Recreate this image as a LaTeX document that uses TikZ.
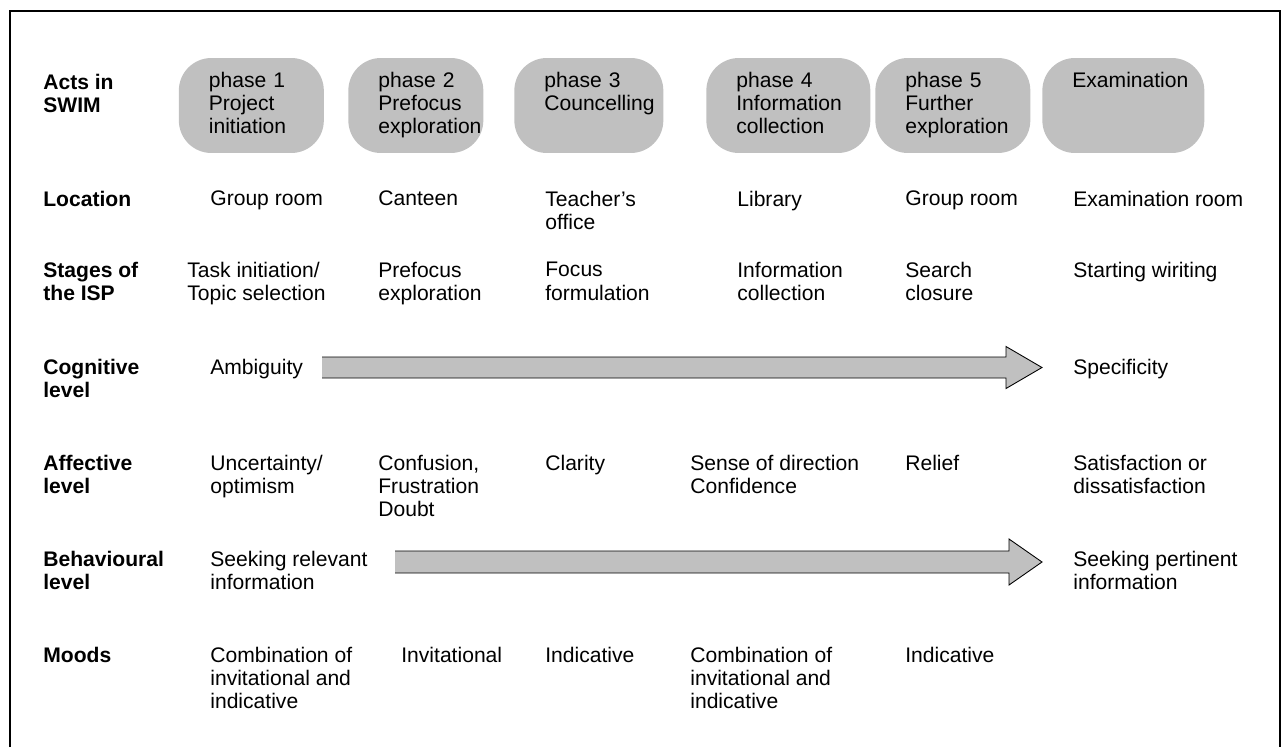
\documentclass[tikz,border=0pt]{standalone}
\usepackage{fontspec}
\setmainfont{Liberation Sans}
\usetikzlibrary{calc}
\definecolor{boxgray}{RGB}{192,192,192}
\newcommand{\rowfont}{\fontsize{12}{13.3}\selectfont}
\tikzset{
  lbl/.style={font=\rowfont\bfseries, align=left, anchor=north west, inner sep=0pt},
  txt/.style={font=\rowfont, align=left, anchor=north west, inner sep=0pt},
  phasebox/.style={font=\rowfont, fill=boxgray, rounded corners=0.65cm, anchor=west, align=left,
    inner xsep=0.6cm, inner ysep=0pt, minimum height=1.9cm, text height=9pt, text depth=30pt},
  bigarrow/.style={fill=boxgray, draw=black, line width=0.5pt, line join=miter}
}
\begin{document}
\begin{tikzpicture}[x=0.02cm, y=-0.02cm]
  \useasboundingbox (0,0) rectangle (1284,747);
  % Frame
  \draw[line width=1pt] (10,747) -- (10,11) -- (1280,11) -- (1280,747);
  % Row labels
  \node (l-acts) [lbl] at (43,73.5) {Acts in\\SWIM};
  \node (l-loc) [lbl] at (43,190.5) {Location};
  \node (l-isp) [lbl] at (43,262) {Stages of\\the ISP};
  \node (l-cog) [lbl] at (43,358.5) {Cognitive\\level};
  \node (l-aff) [lbl] at (43,454.5) {Affective\\level};
  \node (l-beh) [lbl] at (43,550.5) {Behavioural\\level};
  \node (l-mood) [lbl] at (43,646.5) {Moods};
  % Phases
  \node (ph-1) [phasebox, text width=1.7cm] at (178.5,105.5) {phase 1\\Project\\initiation};
  \node (ph-2) [phasebox, text width=1.5cm] at (348,105.5) {\mbox{phase 2}\\Prefocus\\exploration};
  \node (ph-3) [phasebox, text width=1.78cm] at (514,105.5) {phase 3\\Councelling};
  \node (ph-4) [phasebox, text width=2.08cm] at (706,105.5) {phase 4\\Information\\collection};
  \node (ph-5) [phasebox, text width=1.9cm] at (875,105.5) {phase 5\\Further\\exploration};
  \node (ph-6) [phasebox, text width=2.04cm] at (1042,105.5) {Examination};
  % Location
  \node (loc-1) [txt] at (210,190.5) {Group room};
  \node (loc-2) [txt] at (378,190.5) {Canteen};
  \node (loc-3) [txt] at (545,190.5) {Teacher’s\\office};
  \node (loc-4) [txt] at (737,190.5) {Library};
  \node (loc-5) [txt] at (905,190.5) {Group room};
  \node (loc-6) [txt] at (1073,190.5) {Examination room};
  % Stages of the ISP
  \node (isp-1) [txt] at (187,262) {Task initiation/\\Topic selection};
  \node (isp-2) [txt] at (378,262) {Prefocus\\exploration};
  \node (isp-3) [txt] at (545,262) {Focus\\formulation};
  \node (isp-4) [txt] at (737,262) {Information\\collection};
  \node (isp-5) [txt] at (905,262) {Search\\closure};
  \node (isp-6) [txt] at (1073,262) {Starting wiriting};
  % Cognitive level
  \node (cog-1) [txt] at (210,358.5) {Ambiguity};
  \node (cog-6) [txt] at (1073,358.5) {Specificity};
  % Affective level
  \node (aff-1) [txt] at (210,454.5) {Uncertainty/\\optimism};
  \node (aff-2) [txt] at (378,454.5) {Confusion,\\Frustration\\Doubt};
  \node (aff-3) [txt] at (545,454.5) {Clarity};
  \node (aff-4) [txt] at (690,454.5) {Sense of direction\\Confidence};
  \node (aff-5) [txt] at (905,454.5) {Relief};
  \node (aff-6) [txt] at (1073,454.5) {Satisfaction or\\dissatisfaction};
  % Behavioural level
  \node (beh-1) [txt] at (210,550.5) {Seeking relevant\\information};
  \node (beh-6) [txt] at (1073,550.5) {Seeking pertinent\\information};
  % Moods
  \node (mood-1) [txt] at (210,646.5) {Combination of\\invitational and\\indicative};
  \node (mood-2) [txt] at (401,646.5) {Invitational};
  \node (mood-3) [txt] at (545,646.5) {Indicative};
  \node (mood-4) [txt] at (690,646.5) {Combination of\\invitational and\\indicative};
  \node (mood-5) [txt] at (905,646.5) {Indicative};
  % Arrows
  \coordinate (cog-s) at (322,367.5);
  \coordinate (cog-e) at (1042,367.5);
  \coordinate (beh-s) at (395,562);
  \coordinate (beh-e) at (1042,562);
  \filldraw[bigarrow] ($(cog-s)+(0,10.5)$) -- ($(cog-e)+(-36,10.5)$) -- ($(cog-e)+(-36,21)$)
    -- (cog-e) -- ($(cog-e)+(-36,-21)$) -- ($(cog-e)+(-36,-10.5)$) -- ($(cog-s)+(0,-10.5)$);
  \filldraw[bigarrow] ($(beh-s)+(0,11)$) -- ($(beh-e)+(-33,11)$) -- ($(beh-e)+(-33,23)$)
    -- (beh-e) -- ($(beh-e)+(-33,-23)$) -- ($(beh-e)+(-33,-11)$) -- ($(beh-s)+(0,-11)$);
\end{tikzpicture}
\end{document}
